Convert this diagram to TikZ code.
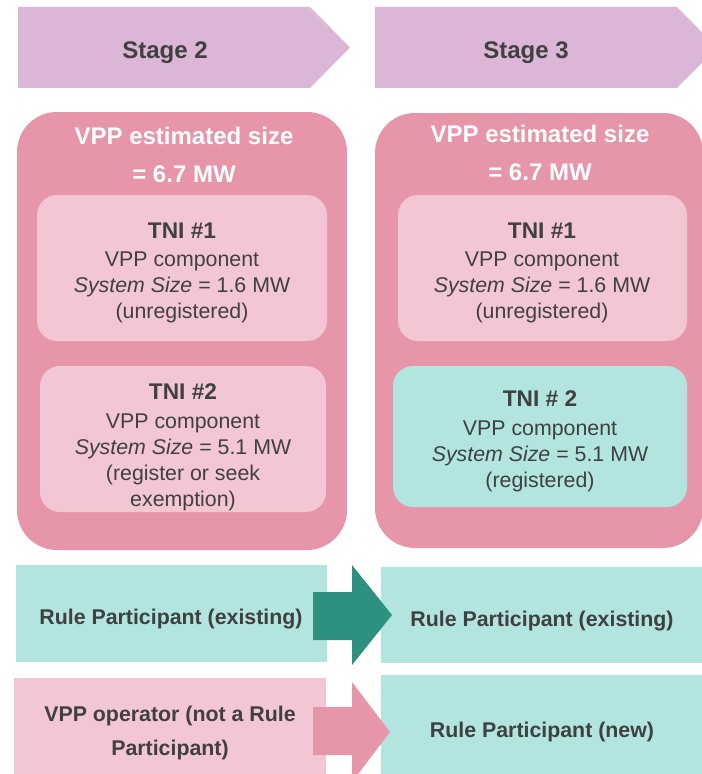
\documentclass[tikz,border=0pt]{standalone}
\usepackage{fontspec}
\setmainfont{Liberation Sans}
\definecolor{stagec}{HTML}{DBB6D7}
\definecolor{bigpink}{HTML}{E795A9}
\definecolor{lightpink}{HTML}{F2C6D3}
\definecolor{tealc}{HTML}{B2E5DF}
\definecolor{darkteal}{HTML}{2E9180}
\definecolor{txt}{HTML}{404040}
\begin{document}
\begin{tikzpicture}[x=0.75pt,y=-0.75pt,
  body/.style={text=txt,align=center,font=\fontsize{16}{19.5}\selectfont},
  boldlbl/.style={text=txt,align=center,font=\fontsize{16}{25.5}\selectfont\bfseries},
  stagelbl/.style={text=txt,font=\fontsize{18}{22}\selectfont\bfseries},
  titlelbl/.style={text=white,align=center,font=\fontsize{18}{28.5}\selectfont\bfseries},
  bigbox/.style={fill=bigpink,rounded corners=30pt},
  innerbox/.style={rounded corners=15pt}]
\useasboundingbox (0,0) rectangle (702,774);
\clip (0,0) rectangle (702,774);
% stage chevrons
\fill[stagec] (18,7) -- (310,7) -- (350,47.5) -- (310,88) -- (18,88) -- cycle;
\fill[stagec] (375,7) -- (677,7) -- (717,47.5) -- (677,88) -- (375,88) -- cycle;
\node[stagelbl] (s2) at (165,53) {Stage 2};
\node[stagelbl] (s3) at (526,53) {Stage 3};
% big boxes
\fill[bigbox] (17,112) rectangle (347,550);
\fill[bigbox] (375,113) rectangle (703,548);
\node[titlelbl] (t2) at (184,155) {VPP estimated size\\= 6.7 MW};
\node[titlelbl] (t3) at (540,152.5) {VPP estimated size\\= 6.7 MW};
% inner boxes
\fill[innerbox,lightpink] (37,195) rectangle (327,341);
\fill[innerbox,lightpink] (40,366) rectangle (326,512);
\fill[innerbox,lightpink] (398,195) rectangle (687,341);
\fill[innerbox,tealc] (393,366) rectangle (687,507);
\node[body] (a1) at (182,273) {{\fontsize{17}{19.5}\selectfont\bfseries TNI \#1}\\[2pt]VPP component\\\textit{System Size} = 1.6 MW\\(unregistered)};
\node[body] (a2) at (183,447) {{\fontsize{17}{19.5}\selectfont\bfseries TNI \#2}\\[2pt]VPP component\\\textit{System Size} = 5.1 MW\\(register or seek\\exemption)};
\node[body] (b1) at (542,273) {{\fontsize{17}{19.5}\selectfont\bfseries TNI \#1}\\[2pt]VPP component\\\textit{System Size} = 1.6 MW\\(unregistered)};
\node[body] (b2) at (540,441) {{\fontsize{17}{19.5}\selectfont\bfseries TNI \# 2}\\[2pt]VPP component\\\textit{System Size} = 5.1 MW\\(registered)};
% bottom rows
\fill[tealc] (16,565) rectangle (327,662);
\fill[tealc] (381,567) rectangle (710,663);
\fill[lightpink] (14,678) rectangle (326,780);
\fill[tealc] (381,675) rectangle (710,780);
\fill[darkteal] (313,592) -- (352,592) -- (352,565) -- (392,615) -- (352,665) -- (352,640) -- (313,640) -- cycle;
\fill[bigpink] (313,707) -- (352,707) -- (352,682) -- (390,732) -- (352,782) -- (352,755) -- (313,755) -- cycle;
\node[boldlbl] (r1) at (171,619) {Rule Participant (existing)};
\node[boldlbl] (r2) at (542,621) {Rule Participant (existing)};
\node[boldlbl] (r3) at (170,733) {VPP operator (not a Rule\\Participant)};
\node[boldlbl] (r4) at (542,732) {Rule Participant (new)};
\end{tikzpicture}
\end{document}
